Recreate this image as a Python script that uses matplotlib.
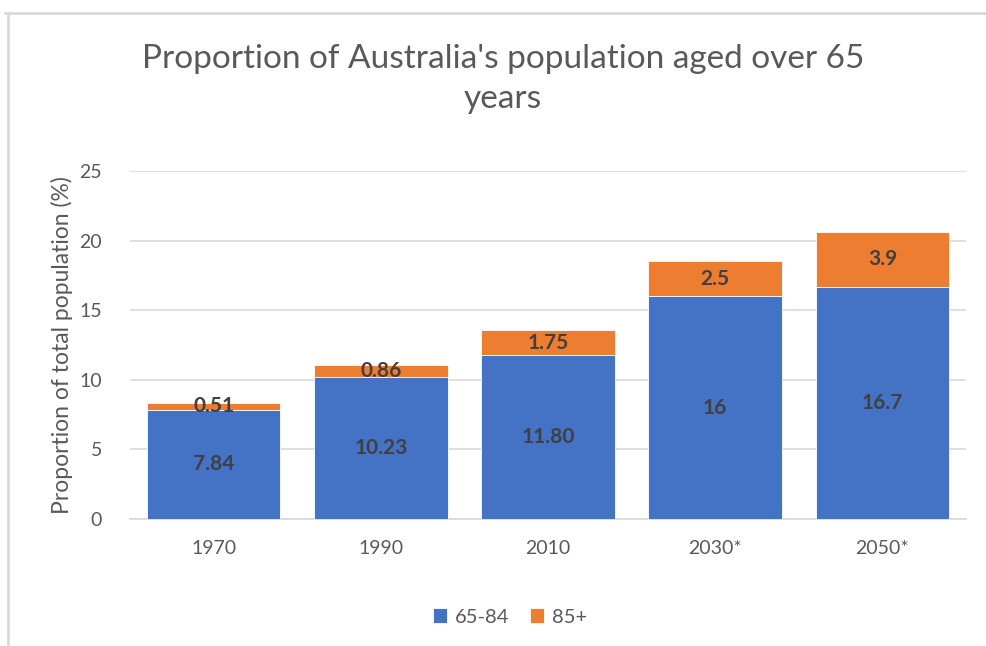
import matplotlib
matplotlib.use("Agg")
import matplotlib.pyplot as plt
from matplotlib.lines import Line2D
import numpy as np

years = ["1970", "1990", "2010", "2030*", "2050*"]
aged_65_84 = [7.84, 10.23, 11.80, 16, 16.7]
aged_85_plus = [0.51, 0.86, 1.75, 2.5, 3.9]
labels_65_84 = ["7.84", "10.23", "11.80", "16", "16.7"]
labels_85_plus = ["0.51", "0.86", "1.75", "2.5", "3.9"]

blue = "#4472C4"
orange = "#ED7D31"
grey_text = "#595959"
label_text = "#404040"

plt.rcParams["font.family"] = ["Lato", "DejaVu Sans"]

W, H = 986, 646
fig = plt.figure(figsize=(W / 100, H / 100), dpi=100)
ax = fig.add_axes([130 / W, 1 - 519 / H, (966 - 130) / W, (519 - 171) / H])

x = np.arange(len(years))
b1 = ax.bar(x, aged_65_84, width=0.8, color=blue, edgecolor="white",
            linewidth=0.6, label="65-84", zorder=3)
b2 = ax.bar(x, aged_85_plus, width=0.8, bottom=aged_65_84, color=orange,
            edgecolor="white", linewidth=0.6, label="85+", zorder=3)

ax.bar_label(b1, labels=labels_65_84, label_type="center", fontsize=15,
             fontweight="bold", color=label_text)
ax.bar_label(b2, labels=labels_85_plus, label_type="center", fontsize=15,
             fontweight="bold", color=label_text)

ax.set_xlim(-0.5, len(years) - 0.5)
ax.set_ylim(0, 25)
ax.set_yticks(range(0, 26, 5))
ax.set_xticks(x)
ax.set_xticklabels(years)
ax.grid(axis="y", color="#D9D9D9", linewidth=1.2, zorder=0)
for s in ["top", "right", "left"]:
    ax.spines[s].set_visible(False)
ax.spines["bottom"].set_color("#D9D9D9")
ax.spines["bottom"].set_linewidth(1.2)
ax.tick_params(axis="both", length=0, labelsize=14, colors=grey_text)
ax.tick_params(axis="y", pad=20)
ax.tick_params(axis="x", pad=15)

ax.set_ylabel("Proportion of total population (%)", fontsize=16.5,
              color=grey_text, labelpad=5)

fig.text(503 / W, 1 - 79 / H,
         "Proportion of Australia's population aged over 65\nyears",
         ha="center", va="center", fontsize=24, color=grey_text,
         linespacing=1.4)

ax.legend(loc="center", bbox_to_anchor=(510 / W, 1 - 617 / H),
          bbox_transform=fig.transFigure, ncol=2, frameon=False,
          fontsize=14.5, labelcolor=grey_text, handlelength=0.7,
          handleheight=0.7, handletextpad=0.4, columnspacing=1.0)

# outer chart border (top and left edges visible)
fig.add_artist(Line2D([5 / W, 1], [1 - 13 / H, 1 - 13 / H],
                      transform=fig.transFigure, color="#D9D9D9", linewidth=2))
fig.add_artist(Line2D([8 / W, 8 / W], [0, 1 - 13 / H],
                      transform=fig.transFigure, color="#D9D9D9", linewidth=2))

fig.savefig("out.png", dpi=100)
